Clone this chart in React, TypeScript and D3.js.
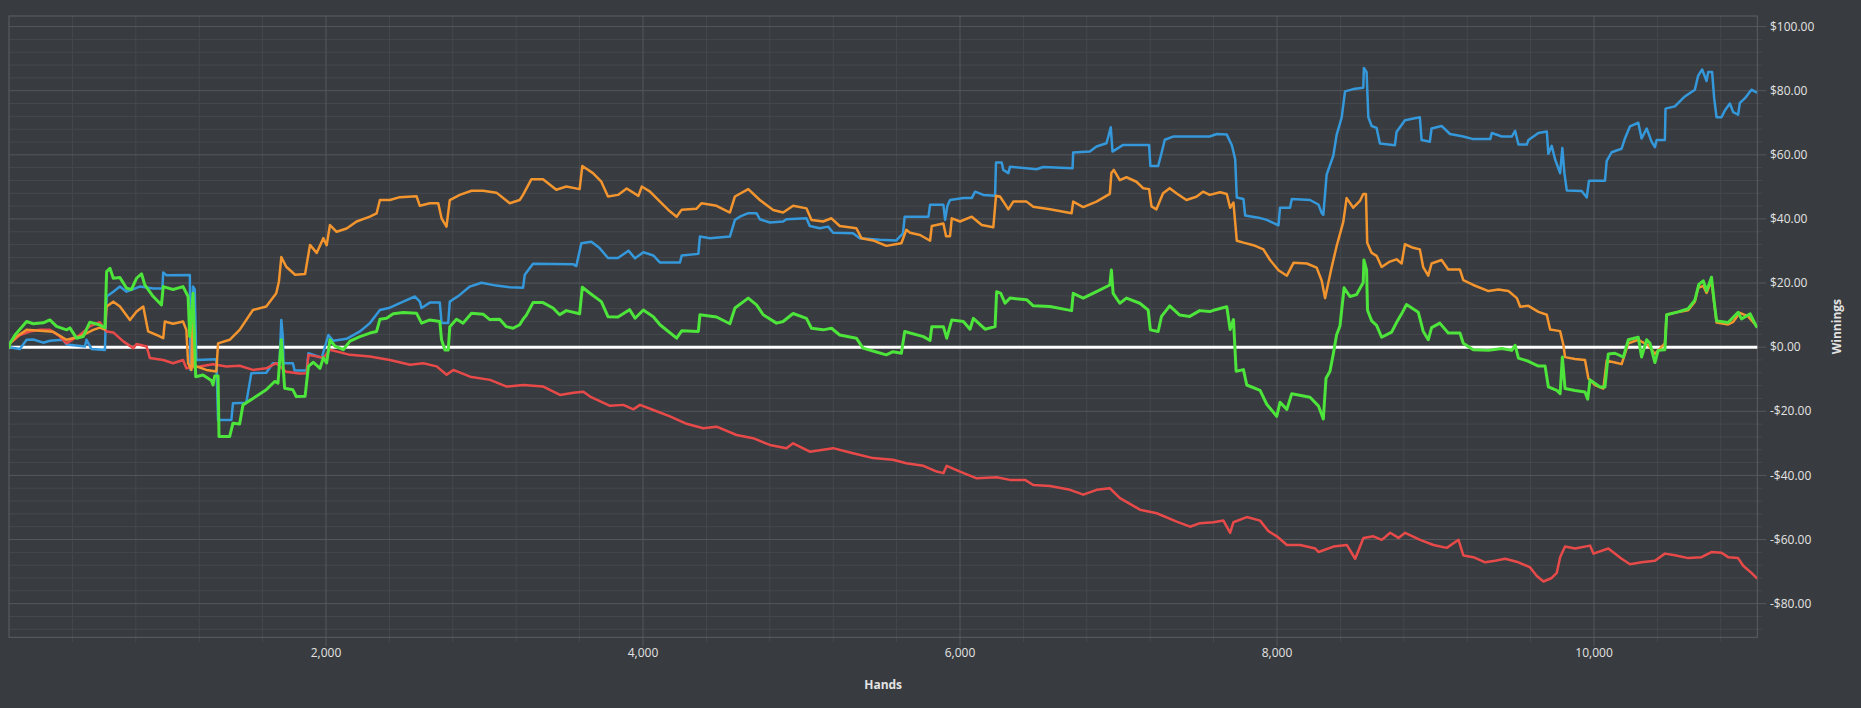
import React from 'react';
import * as d3 from 'd3';

type P = [number, number];

const xTickValues = [2000, 4000, 6000, 8000, 10000];
const yTickValues = [100, 80, 60, 40, 20, 0, -20, -40, -60, -80];
const xAxisTitle = 'Hands';
const yAxisTitle = 'Winnings';

const blueData: P[] = [
  [0, 0], [69, -0.6], [111, 2.3], [153, 2.4], [216, 1.4], [258, 2.0], [342, 2.3], [363, 0.8], [479, 0.2], [489, 2.3],
  [521, -0.6], [605, -0.9], [616, 15.8], [658, 17.3], [700, 18.9], [742, 17.3], [826, 18.9], [910, 18.3], [968, 18.3],
  [973, 23.3], [994, 22.4], [1141, 22.5], [1145, -7.1], [1161, 18.9], [1172, 18.0], [1182, -4], [1308, -3.8], [1319, -22.7],
  [1403, -22.7], [1413, -17.5], [1497, -17.3], [1529, -8.1], [1623, -8.0], [1665, -5], [1707, -5], [1718, 8.5], [1728, 3],
  [1732, -5], [1791, -5], [1802, -7.3], [1878, -7.3], [1889, -1.9], [1973, -3.3], [2015, 3.8], [2046, 2.0], [2130, 2.6],
  [2214, 4.9], [2277, 7.5], [2340, 11.6], [2403, 12.3], [2487, 14.2], [2561, 15.8], [2592, 14.2], [2603, 12.2], [2655, 13.9],
  [2718, 13.9], [2729, 7.5], [2771, 7.5], [2781, 14.2], [2844, 16.3], [2907, 18.9], [2981, 20.1], [3075, 19.2], [3159, 18.7],
  [3243, 18.5], [3254, 22.6], [3306, 26.0], [3558, 25.9], [3579, 25.3], [3611, 32.4], [3674, 32.9], [3726, 30.9], [3779, 27.8],
  [3842, 27.8], [3908, 30.1], [3950, 27.7], [4002, 29.6], [4065, 28.6], [4107, 26.4], [4233, 26.4], [4244, 28.6], [4349, 29.1],
  [4359, 34.5], [4422, 34.0], [4548, 34.5], [4580, 39.7], [4611, 40.7], [4664, 41.8], [4716, 41.8], [4737, 39.9], [4800, 38.9],
  [4884, 39.2], [4905, 39.9], [5031, 40.2], [5052, 37.8], [5115, 37.1], [5168, 37.6], [5199, 35.7], [5325, 35.5], [5367, 34.0],
  [5493, 33.5], [5598, 33.3], [5640, 35.5], [5651, 40.7], [5801, 40.7], [5811, 44.4], [5895, 44.4], [5906, 39.7], [5920, 44.0],
  [5937, 45.9], [6021, 46.5], [6074, 46.5], [6095, 48.5], [6147, 47.5], [6221, 47.2], [6227, 57.6], [6263, 57.6], [6273, 55.3],
  [6305, 54.3], [6315, 56.3], [6483, 55.5], [6525, 56.2], [6710, 55.8], [6714, 60.7], [6819, 61.0], [6861, 62.6], [6924, 63.6],
  [6951, 68.6], [6962, 61.0], [7029, 63.1], [7193, 63.1], [7201, 56.5], [7250, 56.5], [7271, 60.5], [7292, 64.7], [7344, 65.7],
  [7575, 65.7], [7620, 66.5], [7683, 66.3], [7715, 63.0], [7736, 58.6], [7746, 46.7], [7788, 46.2], [7799, 41.1], [7883, 40.4],
  [7935, 39.7], [8009, 38.0], [8019, 43.5], [8082, 43.5], [8093, 46.2], [8208, 45.9], [8261, 44.5], [8282, 41.8], [8292, 41.3],
  [8303, 47.8], [8313, 53.8], [8355, 59.7], [8376, 66.2], [8408, 71.7], [8429, 79.8], [8481, 80.5], [8544, 80.9], [8548, 87.1],
  [8565, 85.8], [8576, 71.7], [8597, 69.0], [8628, 68.4], [8649, 63.5], [8744, 63.0], [8754, 67.1], [8807, 70.8], [8901, 71.7],
  [8912, 64.6], [8964, 64.1], [8975, 68.2], [9038, 69.0], [9091, 66.5], [9175, 65.7], [9238, 64.9], [9345, 64.9], [9355, 66.8],
  [9418, 65.7], [9481, 65.7], [9502, 67.5], [9523, 63.2], [9576, 63.2], [9586, 64.6], [9649, 66.8], [9702, 67.3], [9712, 60.3],
  [9733, 62.8], [9754, 58.6], [9786, 54.3], [9800, 62.1], [9813, 54.3], [9828, 48.9], [9922, 48.7], [9954, 46.7], [9968, 51.9],
  [10069, 51.9], [10080, 58.1], [10111, 60.8], [10174, 61.9], [10195, 65.1], [10227, 68.9], [10279, 70.0], [10300, 65.1],
  [10332, 68.2], [10363, 64.1], [10384, 62.4], [10395, 64.6], [10447, 64.6], [10451, 74.4], [10510, 75.1], [10573, 78.2],
  [10636, 80.3], [10657, 84.7], [10682, 86.6], [10710, 83.0], [10720, 85.8], [10745, 85.8], [10758, 77.6], [10773, 71.7],
  [10804, 71.7], [10825, 73.8], [10857, 76.0], [10878, 73.3], [10909, 72.5], [10920, 76.2], [10951, 77.6], [10993, 80.3],
  [11025, 79.5],
];

const orangeData: P[] = [
  [0, 0], [6, 1.2], [48, 3.3], [111, 5.4], [195, 5.1], [279, 4.8], [363, 2.3], [447, 3.3], [531, 5.4], [573, 6.1], [605, 5.5],
  [616, 12.7], [658, 14.2], [700, 12.7], [763, 8.5], [805, 11.1], [847, 12.7], [878, 4.9], [931, 3.8], [973, 2.8], [983, 8.0],
  [1035, 7.3], [1098, 8.0], [1119, 5.4], [1130, -5], [1151, -7.1], [1157, 8.5], [1165, -6], [1182, -6], [1245, -7.1],
  [1308, -7.6], [1319, 1.2], [1392, 2.3], [1455, 5.4], [1539, 11.6], [1623, 12.7], [1686, 16.8], [1703, 20.5], [1718, 28.1],
  [1749, 25.1], [1805, 22.6], [1868, 22.8], [1899, 31.9], [1941, 29.4], [1983, 34.0], [2004, 31.8], [2025, 38.1], [2067, 36.0],
  [2130, 37.0], [2193, 39.2], [2277, 40.7], [2319, 41.7], [2340, 45.9], [2403, 45.9], [2466, 46.8], [2571, 47.1], [2592, 44.1],
  [2655, 44.9], [2708, 44.9], [2729, 40.2], [2760, 37.6], [2781, 45.9], [2844, 47.5], [2918, 48.8], [2991, 48.8], [3075, 48.2],
  [3159, 44.9], [3222, 45.9], [3243, 47.5], [3296, 52.4], [3369, 52.4], [3453, 49.1], [3516, 50.1], [3600, 49.3], [3617, 56.5],
  [3684, 54.3], [3737, 51.6], [3779, 47.0], [3842, 47.5], [3897, 49.5], [3971, 47.2], [3992, 50.1], [4044, 48.5], [4107, 45.4],
  [4160, 42.8], [4212, 40.7], [4244, 42.9], [4338, 43.2], [4370, 44.9], [4464, 44.1], [4548, 42.0], [4580, 47.0], [4664, 49.3],
  [4737, 45.9], [4821, 42.8], [4884, 42.0], [4947, 44.1], [5031, 43.3], [5063, 39.7], [5136, 39.2], [5189, 40.2], [5241, 37.8],
  [5346, 37.1], [5378, 34.0], [5451, 33.3], [5535, 31.6], [5630, 32.4], [5661, 36.6], [5685, 35.7], [5748, 35.0], [5811, 33.2],
  [5822, 37.8], [5895, 38.6], [5912, 34.6], [5937, 34.6], [5948, 40.2], [6000, 39.2], [6074, 40.7], [6137, 38.1], [6210, 37.4],
  [6227, 47.2], [6252, 47.0], [6284, 44.6], [6305, 43.0], [6336, 45.4], [6420, 45.4], [6462, 43.8], [6567, 43.0], [6704, 41.8],
  [6714, 45.4], [6777, 43.7], [6861, 45.4], [6945, 47.8], [6955, 54.3], [6970, 55.3], [7008, 52.1], [7050, 53.0], [7113, 51.6],
  [7155, 49.6], [7193, 49.3], [7208, 43.9], [7239, 43.0], [7281, 48.0], [7323, 49.6], [7365, 48.0], [7428, 45.9], [7491, 46.9],
  [7533, 48.5], [7575, 47.5], [7641, 48.3], [7683, 47.8], [7704, 43.5], [7725, 45.1], [7746, 33.2], [7788, 32.6], [7851, 31.8],
  [7914, 30.5], [7956, 27.2], [8009, 24.0], [8062, 22.3], [8104, 26.3], [8188, 26.1], [8250, 24.8], [8282, 20.7], [8303, 15.3],
  [8324, 20.2], [8345, 25.0], [8376, 31.5], [8418, 39.1], [8439, 46.5], [8481, 43.5], [8523, 45.6], [8544, 47.8], [8561, 47.8],
  [8569, 32.6], [8597, 29.4], [8628, 28.5], [8660, 25.0], [8712, 26.7], [8754, 27.4], [8786, 26.1], [8807, 32.1], [8859, 31.0],
  [8901, 30.5], [8922, 25.0], [8954, 22.3], [8975, 26.1], [9038, 27.2], [9080, 24.2], [9154, 24.2], [9175, 20.9], [9238, 19.4],
  [9334, 17.5], [9397, 18.0], [9460, 17.5], [9513, 15.3], [9534, 12.6], [9586, 12.9], [9649, 11.0], [9702, 10.1], [9723, 5.5],
  [9786, 5.0], [9807, 0.6], [9817, -3.1], [9880, -3.7], [9943, -4.0], [9964, -9.7], [10006, -11.8], [10059, -12.9],
  [10080, -4.2], [10132, -4.8], [10174, -5.3], [10216, 1.2], [10279, 2.3], [10342, 0.6], [10384, -2.1], [10447, 1.2],
  [10458, 10.1], [10531, 11.0], [10594, 11.5], [10636, 14.2], [10657, 18.5], [10689, 19.1], [10710, 16.9], [10741, 20.7],
  [10758, 13.7], [10773, 7.7], [10846, 7.1], [10878, 7.9], [10920, 10.7], [10972, 9.6], [11025, 6.6],
];

const greenData: P[] = [
  [0, 0], [6, 1.2], [38, 3.8], [111, 8.0], [153, 7.3], [216, 7.6], [258, 8.5], [300, 6.5], [363, 5.4], [384, 6.0], [426, 2.8],
  [468, 3.3], [510, 7.8], [573, 6.9], [605, 6.1], [616, 23.6], [637, 24.6], [658, 21.5], [700, 21.7], [742, 18.4], [773, 18.0],
  [805, 21.5], [836, 22.9], [857, 19.4], [910, 15.8], [962, 13.2], [973, 18.9], [1035, 18.0], [1098, 18.9], [1130, 15.8],
  [1140, 3.3], [1161, 16.8], [1178, -9.2], [1224, -8.7], [1277, -10.4], [1287, -11.8], [1298, -9.0], [1319, -9.0],
  [1325, -27.9], [1392, -27.9], [1413, -23.7], [1455, -24.0], [1476, -18.0], [1539, -16.0], [1623, -13.3], [1676, -10.7],
  [1697, -11.2], [1718, 2.3], [1739, -12.8], [1791, -13.3], [1812, -15.4], [1868, -15.3], [1889, -6.0], [1920, -4.7],
  [1962, -6.6], [1983, -3.3], [2004, -4.9], [2025, 2.3], [2057, 0.3], [2109, -0.8], [2151, 1.9], [2214, 3.3], [2277, 4.4],
  [2319, 4.9], [2340, 8.7], [2382, 9.0], [2424, 10.4], [2487, 10.8], [2571, 10.6], [2603, 7.5], [2655, 8.5], [2718, 8.0],
  [2729, 2.3], [2750, -0.9], [2771, -0.9], [2781, 6.4], [2823, 8.7], [2865, 7.5], [2918, 10.6], [2991, 10.3], [3033, 8.6],
  [3096, 8.7], [3138, 6.4], [3180, 5.9], [3222, 7.0], [3243, 8.7], [3264, 10.0], [3306, 13.9], [3369, 13.9], [3432, 12.2],
  [3474, 10.1], [3516, 11.4], [3600, 10.4], [3617, 18.7], [3663, 16.9], [3737, 14.2], [3779, 9.5], [3842, 9.4], [3915, 11.7],
  [3950, 9.0], [4002, 11.6], [4065, 9.5], [4107, 7.0], [4160, 4.9], [4212, 2.8], [4244, 5.1], [4349, 4.9], [4359, 10.1],
  [4464, 9.4], [4548, 7.3], [4580, 12.2], [4664, 15.3], [4716, 13.2], [4758, 10.1], [4842, 7.5], [4884, 8.0], [4947, 10.5],
  [5031, 9.0], [5063, 5.9], [5136, 5.4], [5189, 5.9], [5241, 3.8], [5346, 2.8], [5388, -0.3], [5472, -1.5], [5535, -2.4],
  [5577, -1.4], [5630, -1.9], [5651, 4.9], [5685, 4.4], [5769, 3.3], [5811, 2.1], [5822, 6.4], [5895, 6.4], [5916, 2.8],
  [5948, 8.5], [6021, 8.0], [6063, 5.6], [6084, 9.0], [6158, 5.6], [6221, 6.4], [6231, 17.3], [6257, 16.8], [6284, 13.7],
  [6315, 15.3], [6420, 14.8], [6462, 12.9], [6567, 12.7], [6704, 11.4], [6714, 16.8], [6777, 15.3], [6861, 17.3], [6945, 19.4],
  [6955, 24.1], [6966, 16.8], [7008, 13.7], [7050, 15.3], [7134, 13.7], [7187, 11.6], [7201, 5.4], [7250, 4.9], [7271, 9.6],
  [7323, 12.9], [7386, 10.0], [7449, 9.6], [7512, 11.4], [7575, 11.1], [7599, 11.5], [7683, 12.6], [7704, 5.5], [7725, 8.6],
  [7742, -7.5], [7788, -7.0], [7809, -11.8], [7893, -13.5], [7935, -17.8], [7998, -21.6], [8019, -17.2], [8062, -19.4],
  [8093, -14.5], [8208, -15.6], [8261, -18.3], [8292, -22.4], [8309, -9.7], [8334, -7.5], [8355, -2.1], [8376, 3.9],
  [8397, 6.6], [8423, 18.5], [8460, 15.8], [8502, 16.4], [8544, 20.2], [8548, 27.2], [8565, 24.0], [8571, 11.5], [8597, 8.2],
  [8628, 6.8], [8660, 3.1], [8723, 4.7], [8754, 7.7], [8786, 10.4], [8817, 13.3], [8891, 10.9], [8922, 5.0], [8954, 2.3],
  [8975, 6.1], [9027, 7.5], [9080, 4.4], [9154, 4.4], [9175, 1.2], [9238, -0.8], [9334, -1.0], [9418, -0.4], [9481, -1.0],
  [9502, 0.6], [9523, -3.4], [9586, -4.4], [9649, -5.9], [9691, -5.9], [9712, -12.4], [9765, -13.5], [9786, -14.5],
  [9800, -3.1], [9817, -12.9], [9880, -13.5], [9943, -14.0], [9960, -16.2], [9975, -10.2], [10038, -12.4], [10069, -12.4],
  [10090, -2.1], [10132, -1.9], [10185, -3.1], [10216, 2.3], [10279, 3.1], [10300, -3.1], [10332, 2.3], [10353, 1.2],
  [10384, -4.8], [10405, -1.0], [10447, -0.8], [10458, 10.1], [10531, 11.0], [10594, 12.0], [10636, 14.7], [10661, 19.6],
  [10689, 20.7], [10710, 17.5], [10741, 21.8], [10758, 14.2], [10773, 8.2], [10846, 7.7], [10909, 10.9], [10930, 8.8],
  [10985, 10.4], [11025, 6.4],
];

const redData: P[] = [
  [0, 0], [6, 1.2], [69, 3.8], [132, 4.9], [195, 5.4], [258, 5.4], [321, 3.3], [363, 1.2], [447, 3.8], [510, 6.5], [573, 7.8],
  [616, 4.9], [658, 4.6], [721, 1.8], [784, -0.3], [805, 1.0], [868, 0.2], [889, -3.4], [973, -4.0], [1035, -5.0], [1098, -4.0],
  [1119, -6.6], [1203, -6.0], [1287, -5.3], [1371, -6.0], [1455, -5.8], [1539, -7.1], [1623, -6.6], [1686, -5.0], [1749, -7.7],
  [1833, -8.2], [1878, -8.1], [1889, -2.4], [1983, -3.3], [2025, -0.8], [2151, -2.4], [2277, -2.9], [2403, -4.0], [2530, -5.5],
  [2614, -5.0], [2698, -6.0], [2761, -8.6], [2803, -7.1], [2909, -9.2], [3035, -10.2], [3140, -12.3], [3245, -11.8],
  [3371, -12.3], [3476, -14.9], [3561, -14.2], [3624, -13.9], [3666, -15.4], [3792, -18.3], [3876, -18.0], [3939, -19.4],
  [3981, -18.0], [4065, -19.6], [4170, -21.6], [4275, -23.9], [4380, -25.3], [4464, -24.8], [4590, -27.4], [4695, -28.4],
  [4800, -30.5], [4905, -31.5], [4947, -30.0], [5052, -32.6], [5199, -31.5], [5325, -33.1], [5451, -34.6], [5577, -35.1],
  [5661, -36.2], [5769, -37.0], [5853, -38.8], [5895, -39.3], [5916, -37.0], [6000, -38.8], [6105, -40.9], [6231, -40.6],
  [6315, -41.4], [6410, -41.4], [6462, -43.0], [6567, -43.3], [6694, -44.5], [6778, -46.0], [6862, -44.5], [6945, -44.0],
  [7009, -47.1], [7135, -50.7], [7241, -51.8], [7367, -54.4], [7451, -56.0], [7514, -54.9], [7599, -54.6], [7662, -54.1],
  [7704, -57.9], [7725, -54.6], [7809, -53.0], [7893, -54.1], [7946, -57.4], [7999, -59.0], [8062, -61.7], [8146, -61.7],
  [8241, -62.8], [8262, -63.9], [8356, -62.2], [8440, -61.7], [8493, -66.0], [8545, -59.5], [8608, -59.0], [8661, -60.1],
  [8714, -57.9], [8766, -59.5], [8808, -57.9], [8903, -60.1], [8987, -61.7], [9071, -62.6], [9145, -60.1], [9176, -65.0],
  [9239, -65.5], [9313, -67.1], [9376, -66.6], [9439, -66.0], [9523, -67.1], [9597, -68.7], [9639, -71.4], [9681, -73.1],
  [9733, -72.0], [9765, -70.4], [9786, -65.5], [9817, -62.2], [9880, -62.8], [9975, -61.9], [9996, -64.4], [10090, -62.8],
  [10174, -66.0], [10227, -67.7], [10300, -67.1], [10384, -66.6], [10447, -64.4], [10510, -64.9], [10594, -65.8],
  [10678, -65.5], [10741, -63.9], [10804, -64.1], [10846, -65.5], [10909, -65.8], [10941, -68.2], [10993, -70.4], [11025, -72.0],
];

const seriesList = [
  { key: 'blue', color: '#3498db', width: 2.5, data: blueData },
  { key: 'red', color: '#e84a4a', width: 2.5, data: redData },
  { key: 'orange', color: '#f3952f', width: 2.5, data: orangeData },
  { key: 'green', color: '#4de43b', width: 3, data: greenData },
];

const W = 1861;
const H = 708;

export default function App() {
  const left = 9, right = 1757.3, top = 16, bottom = 637.3;
  const x = d3.scaleLinear().domain([0, 11030]).range([left, right]);
  const y = d3.scaleLinear().domain([-90.5, 103.3]).range([bottom, top]);
  const minorX = d3.range(400, 11030, 400).filter((v) => v % 2000 !== 0);
  const minorY = d3.range(-88, 104, 4).filter((v) => v % 20 !== 0);
  const line = d3.line<P>().x((d) => x(d[0])).y((d) => y(d[1]));
  const fmtX = d3.format(',');
  const fmtY = (v: number) => (v < 0 ? '-$' : '$') + Math.abs(v).toFixed(2);
  const font = "'Open Sans', 'Noto Sans', sans-serif";
  const bg = '#383b3f';
  const minorCol = '#45494d';
  const majorCol = '#54585c';
  const borderCol = '#5c6064';
  const textCol = '#e3e3e3';

  return (
    <svg width={W} height={H} style={{ position: 'absolute', left: 0, top: 0, display: 'block' }} fontFamily={font}>
      <defs>
        <clipPath id="plotClip">
          <rect x={left} y={top - 2} width={right - left} height={bottom - top + 4} />
        </clipPath>
      </defs>
      <rect x={0} y={0} width={W} height={H} fill={bg} />
      {/* minor grid */}
      {minorY.map((v) => (
        <line key={'my' + v} x1={left} x2={right + 5} y1={y(v)} y2={y(v)} stroke={minorCol} strokeWidth={1} />
      ))}
      {minorX.map((v) => (
        <line key={'mx' + v} x1={x(v)} x2={x(v)} y1={top} y2={bottom + 5} stroke={minorCol} strokeWidth={1} />
      ))}
      {/* major grid */}
      {yTickValues.map((v) => (
        <line key={'Y' + v} x1={left} x2={right + 9} y1={y(v)} y2={y(v)} stroke={majorCol} strokeWidth={1} />
      ))}
      {xTickValues.map((v) => (
        <line key={'X' + v} x1={x(v)} x2={x(v)} y1={top} y2={bottom + 9} stroke={majorCol} strokeWidth={1} />
      ))}
      <rect x={left} y={top} width={right - left} height={bottom - top} fill="none" stroke={borderCol} strokeWidth={1} />
      {/* zero line */}
      <line x1={left} x2={right} y1={y(0)} y2={y(0)} stroke="#ffffff" strokeWidth={3} />
      <g clipPath="url(#plotClip)">
        {seriesList.map((s) => (
          <path key={s.key} d={line(s.data) || ''} fill="none" stroke={s.color} strokeWidth={s.width}
            strokeLinejoin="round" strokeLinecap="round" />
        ))}
      </g>
      {/* y tick labels */}
      {yTickValues.map((v) => (
        <text key={'yl' + v} x={1770} y={y(v)} dy="0.35em" fill={textCol} fontSize={12}>{fmtY(v)}</text>
      ))}
      {/* x tick labels */}
      {xTickValues.map((v) => (
        <text key={'xl' + v} x={x(v)} y={657} textAnchor="middle" fill={textCol} fontSize={12}>{fmtX(v)}</text>
      ))}
      <text x={(left + right) / 2} y={689} textAnchor="middle" fill={textCol} fontSize={12} fontWeight="bold">{xAxisTitle}</text>
      <text transform={`translate(1841, ${(top + bottom) / 2}) rotate(-90)`} textAnchor="middle" fill={textCol}
        fontSize={12} fontWeight="bold">{yAxisTitle}</text>
    </svg>
  );
}
